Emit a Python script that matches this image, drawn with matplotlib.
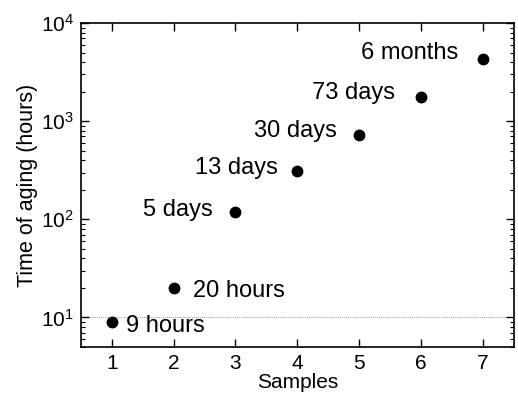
import numpy as np
import matplotlib
matplotlib.use("Agg")
import matplotlib.pyplot as plt
from matplotlib.ticker import LogLocator, NullFormatter

plt.rcParams["font.family"] = ["Liberation Sans", "DejaVu Sans"]

samples = [1, 2, 3, 4, 5, 6, 7]
hours = [9, 20, 120, 312, 720, 1752, 4320]
labels = ["9 hours", "20 hours", "5 days", "13 days", "30 days", "73 days", "6 months"]

# label offsets in points (dx, dy)
offsets = [(10, -3), (14, -2), (-16, 1), (-14, 2), (-16, 3), (-19, 3), (-18, 4)]

fig = plt.figure(figsize=(5.18, 4.04), dpi=100)
ax = fig.add_axes([0.156, 0.141, 0.836, 0.802])

ax.axhline(10, color="#999999", lw=0.7, ls=(0, (1, 1)), zorder=0)
ax.plot(samples, hours, "o", color="black", ms=7.5, zorder=3)

for x, y, t, (dx, dy) in zip(samples, hours, labels, offsets):
    ax.annotate(t, (x, y), xytext=(dx, dy), textcoords="offset points",
                ha="left" if dx > 0 else "right", va="center", fontsize=17)

ax.set_yscale("log")
ax.set_xlim(0.5, 7.5)
ax.set_ylim(5, 1e4)
ax.set_xticks(samples)
ax.yaxis.set_major_locator(LogLocator(base=10, numticks=10))
ax.yaxis.set_minor_locator(LogLocator(base=10, subs=np.arange(2, 10), numticks=20))
ax.yaxis.set_minor_formatter(NullFormatter())

ax.tick_params(which="both", direction="in", top=True, right=True, labelsize=15)
ax.tick_params(which="major", length=6, width=1, pad=5)
ax.tick_params(which="minor", length=3, width=0.8)
for s in ax.spines.values():
    s.set_linewidth(1.2)

ax.set_xlabel("Samples", fontsize=15, labelpad=0)
ax.set_ylabel("Time of aging (hours)", fontsize=15.5, labelpad=2)

fig.savefig("out.png", dpi=100)
